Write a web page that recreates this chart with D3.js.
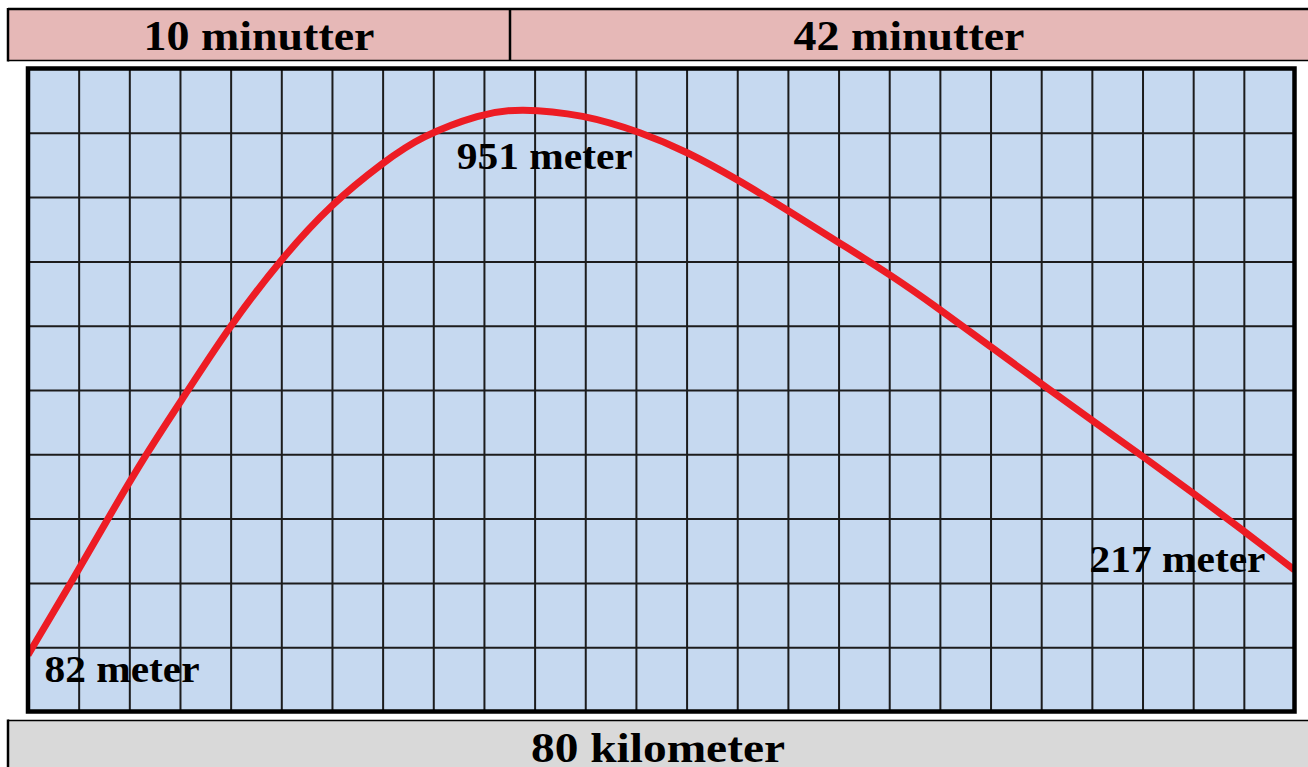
<!DOCTYPE html>
<html>
<head>
<meta charset="utf-8">
<style>
body { margin: 0; background: #fff; }
text { font-family: "Liberation Serif", "DejaVu Serif", serif; font-weight: bold; fill: #000; }
</style>
</head>
<body>
<div id="chart"></div>
<script src="https://d3js.org/d3.v7.min.js"></script>
<script>
// route profile: distance (km) and height (m)
var distanceKm = [0, 2.8, 5.1, 7.5, 10.1, 12.7, 15.9, 19.2, 22.5, 24.8, 28.6, 31.0, 35.1, 38.8, 41.6, 44.8, 47.9, 51.1, 54.5, 57.5, 60.8, 64.1, 67.3, 70.4, 73.6, 76.8, 80];
var altitudeM = [82, 200, 301, 403, 502, 603, 709, 800, 866, 906, 942, 951, 941, 912, 882, 838, 790, 739, 686, 633, 572, 511, 453, 398, 339, 279, 217];
var timeLabels = ["10 minutter", "42 minutter"];
var distanceLabel = "80 kilometer";
var markIndex = [0, 11, 26];   // points that carry a height label
var markLabels = ["82 meter", "951 meter", "217 meter"];

var W = 1308, H = 767;
var plot = { left: 28, top: 68.5, right: 1294.5, bottom: 711.5 };
var nCols = 25, nRows = 10;

var svg = d3.select("#chart").append("svg")
	.attr("width", W)
	.attr("height", H);

var x = d3.scaleLinear().domain([0, 80]).range([plot.left, plot.right]);
var y = d3.scaleLinear().domain([-8, 1014]).range([plot.bottom, plot.top]);

// header with the two times
var split = 510;
svg.append("rect").attr("x", 8).attr("y", 9).attr("width", W).attr("height", 51).attr("fill", "#e6b8b7");
svg.append("line").attr("x1", 8).attr("x2", W).attr("y1", 9).attr("y2", 9).attr("stroke", "#000").attr("stroke-width", 2.5);
svg.append("line").attr("x1", 8).attr("x2", W).attr("y1", 60.5).attr("y2", 60.5).attr("stroke", "#000").attr("stroke-width", 1.5);
svg.append("line").attr("x1", 8).attr("x2", 8).attr("y1", 8).attr("y2", 61.5).attr("stroke", "#000").attr("stroke-width", 2.5);
svg.append("line").attr("x1", split).attr("x2", split).attr("y1", 9).attr("y2", 60).attr("stroke", "#000").attr("stroke-width", 2.5);

var cellMid = [(8 + split) / 2, (split + W) / 2];
svg.selectAll(".time").data(timeLabels).enter().append("text")
	.attr("class", "time")
	.attr("x", function(d, i) { return cellMid[i]; })
	.attr("y", 50)
	.attr("text-anchor", "middle")
	.attr("font-size", 42)
	.attr("textLength", 231)
	.attr("lengthAdjust", "spacingAndGlyphs")
	.text(function(d) { return d; });

// footer with the distance (its text runs off the bottom, as in the original)
svg.append("rect").attr("x", 8).attr("y", 720).attr("width", W).attr("height", 50).attr("fill", "#d9d9d9");
svg.append("line").attr("x1", 8).attr("x2", W).attr("y1", 720.5).attr("y2", 720.5).attr("stroke", "#000").attr("stroke-width", 1.5);
svg.append("line").attr("x1", 8).attr("x2", 8).attr("y1", 719.5).attr("y2", H).attr("stroke", "#000").attr("stroke-width", 2.5);
svg.append("text")
	.attr("x", (8 + W) / 2)
	.attr("y", 762)
	.attr("text-anchor", "middle")
	.attr("font-size", 43)
	.attr("textLength", 254)
	.attr("lengthAdjust", "spacingAndGlyphs")
	.text(distanceLabel);

// plot background and grid
svg.append("rect")
	.attr("x", plot.left).attr("y", plot.top)
	.attr("width", plot.right - plot.left).attr("height", plot.bottom - plot.top)
	.attr("fill", "#c6d9f0");

var xd = x.domain(), yd = y.domain();
var colTicks = d3.range(1, nCols).map(function(i) { return xd[0] + i * (xd[1] - xd[0]) / nCols; });
var rowTicks = d3.range(1, nRows).map(function(i) { return yd[0] + i * (yd[1] - yd[0]) / nRows; });

svg.append("g")
	.attr("transform", "translate(0," + plot.bottom + ")")
	.call(d3.axisBottom(x).tickValues(colTicks).tickSize(-(plot.bottom - plot.top)).tickFormat(""))
	.call(function(g) { g.select(".domain").remove(); })
	.selectAll("line").attr("stroke", "#1c1c1c").attr("stroke-width", 2);

svg.append("g")
	.attr("transform", "translate(" + plot.left + ",0)")
	.call(d3.axisLeft(y).tickValues(rowTicks).tickSize(-(plot.right - plot.left)).tickFormat(""))
	.call(function(g) { g.select(".domain").remove(); })
	.selectAll("line").attr("stroke", "#1c1c1c").attr("stroke-width", 2);

// height labels
var labelOffset = [[94, 27], [26, 61], [-117, 2]];
svg.selectAll(".mark").data(markIndex).enter().append("text")
	.attr("class", "mark")
	.attr("x", function(d, i) { return x(distanceKm[d]) + labelOffset[i][0]; })
	.attr("y", function(d, i) { return y(altitudeM[d]) + labelOffset[i][1]; })
	.attr("text-anchor", "middle")
	.attr("font-size", 37)
	.attr("textLength", function(d, i) { return i == 0 ? 155 : 176; })
	.attr("lengthAdjust", "spacingAndGlyphs")
	.text(function(d, i) { return markLabels[i]; });

// the route
svg.append("clipPath").attr("id", "clip")
	.append("rect")
	.attr("x", plot.left).attr("y", plot.top)
	.attr("width", plot.right - plot.left).attr("height", plot.bottom - plot.top);

var route = d3.line()
	.x(function(d, i) { return x(distanceKm[i]); })
	.y(function(d) { return y(d); })
	.curve(d3.curveBasis);

svg.append("path")
	.datum(altitudeM)
	.attr("clip-path", "url(#clip)")
	.attr("d", route)
	.attr("fill", "none")
	.attr("stroke", "#ed1c24")
	.attr("stroke-width", 7);

// thick frame round the plot
svg.append("rect")
	.attr("x", plot.left).attr("y", plot.top)
	.attr("width", plot.right - plot.left).attr("height", plot.bottom - plot.top)
	.attr("fill", "none")
	.attr("stroke", "#000")
	.attr("stroke-width", 4.5);
</script>
</body>
</html>
